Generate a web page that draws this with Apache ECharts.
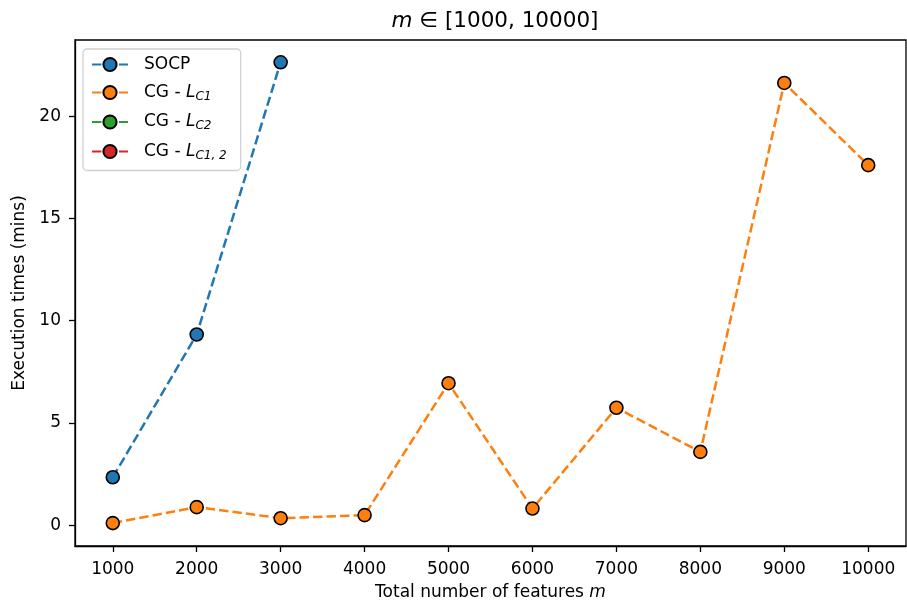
<!DOCTYPE html>
<html>
<head>
<meta charset="utf-8">
<script src="https://cdn.jsdelivr.net/npm/echarts@6/dist/echarts.min.js"></script>
<style>
  html, body { margin: 0; padding: 0; background: #fff; }
  #chart { width: 907px; height: 603px; }
</style>
</head>
<body>
<div id="chart"></div>
<script>
// Problem sizes (total number of features m)
const features = [1000, 2000, 3000, 4000, 5000, 6000, 7000, 8000, 9000, 10000];
const xTicks = [1000, 2000, 3000, 4000, 5000, 6000, 7000, 8000, 9000, 10000];
const yTicks = [0, 5, 10, 15, 20];

// Execution times in minutes
const socpTimes = [2.34, 9.32, 22.63];
const cgLC1Times = [0.10, 0.88, 0.34, 0.49, 6.94, 0.81, 5.74, 3.58, 21.62, 17.6];
const cgLC2Times = [];
const cgLC12Times = [];

const FONT = 'DejaVu Sans';
const FS = 17;

function pairs(xs, ys) {
  return ys.map((v, i) => [xs[i], v]);
}

function makeSeries(name, color, values) {
  return {
    name: name,
    type: 'line',
    data: pairs(features, values),
    symbol: 'circle',
    symbolSize: 13,
    showSymbol: true,
    color: color,
    lineStyle: { color: color, width: 2.5, type: [9.4, 4.1] },
    itemStyle: { color: color, borderColor: '#000', borderWidth: 1.6 },
    emphasis: { disabled: true },
    animation: false
  };
}

const legendRich = {
  n: { fontFamily: FONT, fontSize: FS, color: '#000' },
  i: { fontFamily: FONT, fontSize: FS, fontStyle: 'italic', color: '#000' },
  s: { fontFamily: FONT, fontSize: 12, fontStyle: 'italic', color: '#000', padding: [8, 0, 0, 0] }
};

const legendLabels = {
  'SOCP': '{n|SOCP}',
  'CG - L_C1': '{n|CG - }{i|L}{s|C1}',
  'CG - L_C2': '{n|CG - }{i|L}{s|C2}',
  'CG - L_C12': '{n|CG - }{i|L}{s|C1, 2}'
};

const axisLineStyle = { color: '#000', width: 1.3 };

const chart = echarts.init(document.getElementById('chart'), null, { renderer: 'canvas' });

chart.setOption({
  animation: false,
  backgroundColor: '#fff',
  title: {
    text: '{i|m}{n| ∈ [1000, 10000]}',
    left: 490,
    textAlign: 'center',
    top: 5,
    textStyle: {
      rich: {
        i: { fontFamily: FONT, fontSize: 21.5, fontStyle: 'italic', fontWeight: 'normal', color: '#000' },
        n: { fontFamily: FONT, fontSize: 21.5, fontWeight: 'normal', color: '#000' }
      }
    }
  },
  grid: {
    left: 75, right: 1, top: 40, bottom: 57,
    outerBoundsMode: 'none',
    containLabel: false,
    show: true, borderColor: '#000', borderWidth: 1.3, backgroundColor: 'transparent'
  },
  legend: {
    orient: 'vertical',
    left: 83, top: 49,
    padding: [7, 14, 9, 8],
    itemWidth: 36, itemHeight: 16.5, itemGap: 11,
    backgroundColor: '#fff',
    borderColor: '#d0d0d0', borderWidth: 1.3, borderRadius: 4,
    selectedMode: false,
    data: ['SOCP', 'CG - L_C1', 'CG - L_C2', 'CG - L_C12'],
    formatter: name => legendLabels[name],
    textStyle: { padding: [0, 0, 0, 11], rich: legendRich }
  },
  xAxis: {
    type: 'value',
    min: 550, max: 10450,
    name: '{n|Total number of features }{i|m}',
    nameLocation: 'middle',
    nameGap: 38,
    nameTextStyle: {
      rich: {
        n: { fontFamily: FONT, fontSize: FS, color: '#000' },
        i: { fontFamily: FONT, fontSize: FS, fontStyle: 'italic', color: '#000' }
      }
    },
    splitLine: { show: false },
    axisLine: { show: true, onZero: false, lineStyle: axisLineStyle },
    axisTick: { show: true, length: 6, customValues: xTicks, lineStyle: axisLineStyle },
    axisLabel: {
      customValues: xTicks, color: '#000', fontFamily: FONT, fontSize: FS, margin: 15,
      formatter: v => String(v)
    }
  },
  yAxis: {
    type: 'value',
    min: -1.02, max: 23.72,
    name: 'Execution times (mins)',
    nameLocation: 'middle',
    nameGap: 42,
    nameTextStyle: { fontFamily: FONT, fontSize: FS, color: '#000' },
    splitLine: { show: false },
    axisLine: { show: true, onZero: false, lineStyle: axisLineStyle },
    axisTick: { show: true, length: 6, customValues: yTicks, lineStyle: axisLineStyle },
    axisLabel: {
      customValues: yTicks, color: '#000', fontFamily: FONT, fontSize: FS, margin: 14,
      formatter: v => String(v)
    }
  },
  series: [
    makeSeries('SOCP', '#1f77b4', socpTimes),
    makeSeries('CG - L_C1', '#ff7f0e', cgLC1Times),
    makeSeries('CG - L_C2', '#2ca02c', cgLC2Times),
    makeSeries('CG - L_C12', '#d62728', cgLC12Times)
  ]
});
</script>
</body>
</html>
